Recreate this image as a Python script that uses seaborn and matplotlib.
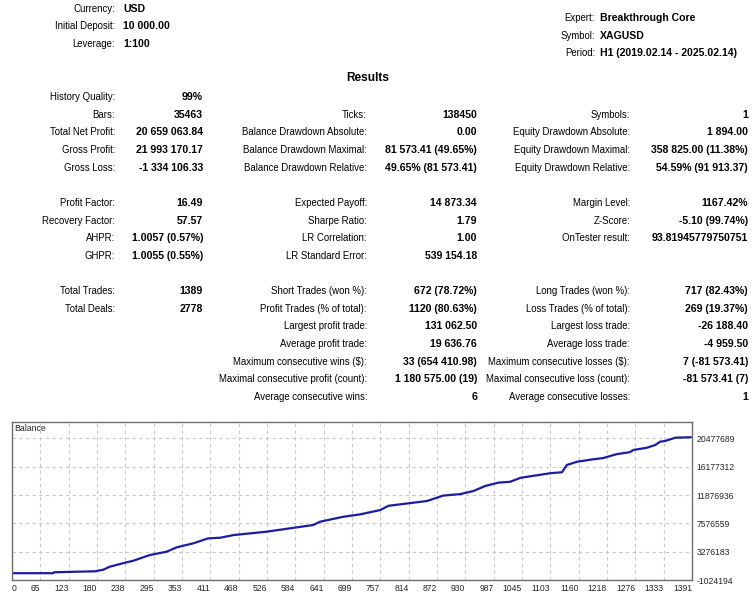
import matplotlib
matplotlib.use("Agg")
import matplotlib.pyplot as plt
import seaborn as sns
import pandas as pd
import numpy as np

# header info
header_left_labels = ["Currency:", "Initial Deposit:", "Leverage:"]
header_left_values = ["USD", "10 000.00", "1:100"]
header_right_labels = ["Expert:", "Symbol:", "Period:"]
header_right_values = ["Breakthrough Core", "XAGUSD", "H1 (2019.02.14 - 2025.02.14)"]

# results table, one list per column, None = empty row
col1_labels = ["History Quality:", "Bars:", "Total Net Profit:", "Gross Profit:", "Gross Loss:", None,
               "Profit Factor:", "Recovery Factor:", "AHPR:", "GHPR:", None,
               "Total Trades:", "Total Deals:"]
col1_values = ["99%", "35463", "20 659 063.84", "21 993 170.17", "-1 334 106.33", None,
               "16.49", "57.57", "1.0057 (0.57%)", "1.0055 (0.55%)", None,
               "1389", "2778"]
col2_labels = [None, "Ticks:", "Balance Drawdown Absolute:", "Balance Drawdown Maximal:",
               "Balance Drawdown Relative:", None,
               "Expected Payoff:", "Sharpe Ratio:", "LR Correlation:", "LR Standard Error:", None,
               "Short Trades (won %):", "Profit Trades (% of total):", "Largest profit trade:",
               "Average profit trade:", "Maximum consecutive wins ($):",
               "Maximal consecutive profit (count):", "Average consecutive wins:"]
col2_values = [None, "138450", "0.00", "81 573.41 (49.65%)", "49.65% (81 573.41)", None,
               "14 873.34", "1.79", "1.00", "539 154.18", None,
               "672 (78.72%)", "1120 (80.63%)", "131 062.50", "19 636.76", "33 (654 410.98)",
               "1 180 575.00 (19)", "6"]
col3_labels = [None, "Symbols:", "Equity Drawdown Absolute:", "Equity Drawdown Maximal:",
               "Equity Drawdown Relative:", None,
               "Margin Level:", "Z-Score:", "OnTester result:", None, None,
               "Long Trades (won %):", "Loss Trades (% of total):", "Largest loss trade:",
               "Average loss trade:", "Maximum consecutive losses ($):",
               "Maximal consecutive loss (count):", "Average consecutive losses:"]
col3_values = [None, "1", "1 894.00", "358 825.00 (11.38%)", "54.59% (91 913.37)", None,
               "1167.42%", "-5.10 (99.74%)", "93.81945779750751", None, None,
               "717 (82.43%)", "269 (19.37%)", "-26 188.40", "-4 959.50", "7 (-81 573.41)",
               "-81 573.41 (7)", "1"]

# balance curve (trade number, balance)
trades = [0, 84, 86, 170, 187, 200, 231, 248, 282, 316, 337, 371, 401, 426, 453, 521, 568,
          616, 630, 678, 712, 753, 770, 808, 849, 882, 917, 944, 968, 995, 1019, 1040, 1066,
          1101, 1125, 1135, 1156, 1187, 1209, 1237, 1264, 1271, 1299, 1316, 1326, 1336, 1357, 1389]
balance = [10000, 10000, 150000, 300000, 550000, 1000000, 1600000, 1900000, 2770000, 3270000,
           3940000, 4550000, 5300000, 5400000, 5800000, 6320000, 6820000, 7330000, 7830000,
           8590000, 8950000, 9600000, 10250000, 10600000, 10980000, 11800000, 12030000,
           12500000, 13260000, 13770000, 13900000, 14500000, 14800000, 15200000, 15350000,
           16450000, 16950000, 17300000, 17500000, 18100000, 18400000, 18730000, 19080000,
           19500000, 20000000, 20100000, 20600000, 20669064]

x_tick_labels = ["0", "65", "123", "180", "238", "295", "353", "411", "468", "526", "584", "641",
                 "699", "757", "814", "872", "930", "987", "1045", "1103", "1160", "1218",
                 "1276", "1333", "1391"]
y_tick_values = [-1024194, 3276183, 7576559, 11876936, 16177312, 20477689]

sns.set_style("white")
plt.rcParams['font.family'] = ['Liberation Sans', 'DejaVu Sans']

W, H = 756, 600
fig = plt.figure(figsize=(W / 100, H / 100), dpi=100)
FS_LAB = 6.95   # regular labels
FS_VAL = 7.6    # bold values


def put(x, y, s, ha="right", bold=False, size=None):
    if size is None:
        size = FS_VAL if bold else FS_LAB
    fig.text(x / W, 1 - y / H, s, ha=ha, va="center", fontsize=size,
             fontweight="bold" if bold else "normal", color="black")


for i, (lab, val) in enumerate(zip(header_left_labels, header_left_values)):
    y = 8.5 + 17.7 * i
    put(115, y, lab)
    put(123, y, val, ha="left", bold=True)

for i, (lab, val) in enumerate(zip(header_right_labels, header_right_values)):
    y = 18 + 17.6 * i
    put(595, y, lab)
    put(600, y, val, ha="left", bold=True)

put(368, 78, "Results", ha="center", bold=True, size=8.6)

columns = [(col1_labels, col1_values, 115, 203),
           (col2_labels, col2_values, 367, 477),
           (col3_labels, col3_values, 630, 748)]
for labels, values, lx, vx in columns:
    for i, (lab, val) in enumerate(zip(labels, values)):
        if lab is None:
            continue
        y = 97 + 17.65 * i
        put(lx, y, lab)
        put(vx, y, val, bold=True)

# balance chart
ax = fig.add_axes([12 / W, 20 / H, 680 / W, 158 / H])
df = pd.DataFrame({"trade": trades, "balance": balance})
sns.lineplot(data=df, x="trade", y="balance", ax=ax, color="#1c1ca0", linewidth=1.6)

step_y = y_tick_values[1] - y_tick_values[0]
ax.set_xlim(0, 1391)
ax.set_ylim(y_tick_values[0], y_tick_values[-1] + 0.583 * step_y)
xt = np.linspace(0, 1391, len(x_tick_labels))
ax.set_xticks(xt)
ax.set_xticklabels(x_tick_labels, fontsize=6.2)
for k, t in enumerate(ax.get_xticklabels()):
    t.set_ha("left" if k == 0 else "right")
ax.set_yticks(y_tick_values)
ax.set_yticklabels([str(v) for v in y_tick_values], fontsize=6.2)
ax.yaxis.tick_right()
ax.tick_params(axis="both", length=0, pad=3)
ax.set_xlabel("")
ax.set_ylabel("")
ax.grid(True, color="#c8c8c8", linestyle=(0, (3, 3)), linewidth=0.8)
for s in ax.spines.values():
    s.set_color("#6e6e6e")
    s.set_linewidth(1.0)
ax.text(0.004, 0.985, "Balance", transform=ax.transAxes, ha="left", va="top", fontsize=6.3)

fig.savefig("out.png", dpi=100)
